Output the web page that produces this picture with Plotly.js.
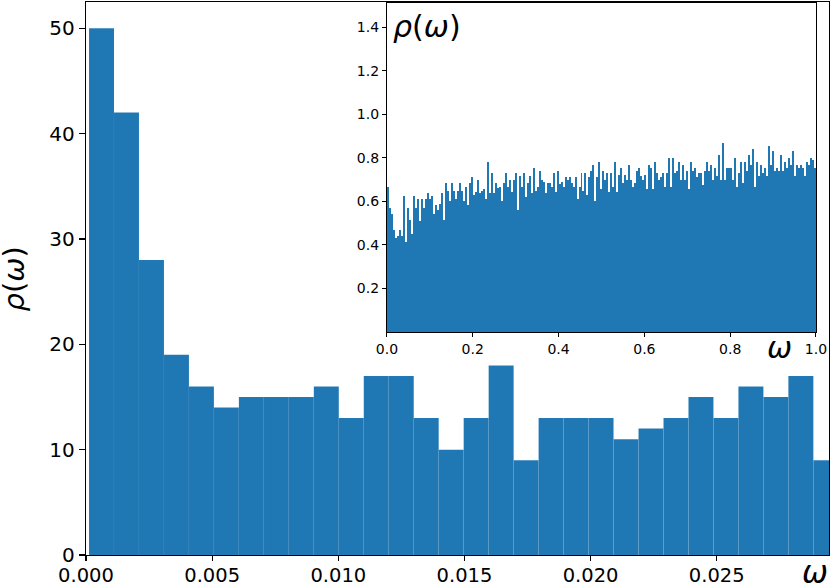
<!DOCTYPE html>
<html>
<head>
<meta charset="utf-8">
<script src="https://cdn.plot.ly/plotly-3.0.1.min.js"></script>
<style>
  html, body { margin: 0; padding: 0; background: #fff; }
  #chart { width: 830px; height: 585px; }
</style>
</head>
<body>
<div id="chart"></div>
<script>
// ---- Main histogram (low-frequency part) ----
const mainBinStart = 0.00012;
const mainBinWidth = 0.00099;
const mainCounts = [50, 42, 28, 19, 16, 14, 15, 15, 15, 16,
                    13, 17, 17, 13, 10, 13, 18, 9, 13, 13,
                    13, 11, 12, 13, 15, 13, 16, 15, 17, 9];
const mainXTicks = [0, 0.005, 0.010, 0.015, 0.020, 0.025];
const mainYTicks = [0, 10, 20, 30, 40, 50];

// ---- Inset histogram (full range 0..1) ----
const insetDensity = [
  // 0.00 - 0.20
  0.668, 0.569, 0.54, 0.47, 0.43, 0.44, 0.47, 0.44, 0.625, 0.415,
  0.57, 0.515, 0.45, 0.625, 0.57, 0.61, 0.51, 0.61, 0.57, 0.61,
  0.64, 0.61, 0.625, 0.54, 0.584, 0.56, 0.59, 0.64, 0.515, 0.683,
  0.65, 0.60, 0.683, 0.65, 0.61, 0.65, 0.683, 0.65, 0.60, 0.668,
  0.584, 0.686, 0.711,
  // 0.20 - 0.40
  0.63, 0.645, 0.70, 0.64, 0.65, 0.655, 0.61, 0.783, 0.64, 0.73,
  0.64, 0.683, 0.66, 0.668, 0.60, 0.683, 0.73, 0.668, 0.70, 0.645,
  0.70, 0.73, 0.56, 0.715, 0.668, 0.73, 0.62, 0.683, 0.715, 0.64,
  0.752, 0.65, 0.668, 0.738, 0.70, 0.69, 0.64, 0.683, 0.683, 0.668,
  0.73, 0.645, 0.738,
  // 0.40 - 0.60
  0.68, 0.69, 0.668, 0.711, 0.70, 0.711, 0.683, 0.668, 0.711, 0.61,
  0.668, 0.73, 0.65, 0.73, 0.63, 0.711, 0.738, 0.768, 0.60, 0.711,
  0.783, 0.655, 0.738, 0.70, 0.73, 0.645, 0.73, 0.668, 0.783, 0.645,
  0.72, 0.752, 0.683, 0.72, 0.70, 0.768, 0.70, 0.668, 0.683, 0.74,
  0.752, 0.715, 0.70,
  // 0.60 - 0.80
  0.72, 0.655, 0.768, 0.752, 0.655, 0.783, 0.73, 0.70, 0.711, 0.73,
  0.668, 0.73, 0.798, 0.668, 0.798, 0.73, 0.738, 0.783, 0.70, 0.768,
  0.70, 0.738, 0.655, 0.783, 0.738, 0.752, 0.711, 0.73, 0.73, 0.675,
  0.738, 0.783, 0.738, 0.768, 0.70, 0.752, 0.715, 0.814, 0.70, 0.867,
  0.70, 0.752, 0.752,
  // 0.80 - 1.00
  0.752, 0.70, 0.798, 0.668, 0.73, 0.783, 0.683, 0.783, 0.74, 0.814,
  0.768, 0.84, 0.668, 0.783, 0.715, 0.768, 0.73, 0.752, 0.715, 0.855,
  0.768, 0.83, 0.738, 0.752, 0.74, 0.814, 0.738, 0.783, 0.752, 0.798,
  0.768, 0.83, 0.715, 0.768, 0.752, 0.768, 0.752, 0.715, 0.783, 0.768,
  0.798, 0.79, 0.752
];
const insetXTicks = [0.0, 0.2, 0.4, 0.6, 0.8, 1.0];
const insetYTicks = [0.2, 0.4, 0.6, 0.8, 1.0, 1.2, 1.4];

const barColor = '#1f77b4';

const mainX = mainCounts.map((_, i) => mainBinStart + (i + 0.5) * mainBinWidth);
const insetWidth = 1 / insetDensity.length;
const insetX = insetDensity.map((_, i) => (i + 0.5) * insetWidth);

const traces = [
  {
    type: 'bar', x: mainX, y: mainCounts, width: mainBinWidth,
    marker: { color: barColor, line: { width: 0.4, color: 'rgba(255,255,255,0.10)' } },
    xaxis: 'x', yaxis: 'y', hoverinfo: 'x+y'
  },
  {
    type: 'bar', x: insetX, y: insetDensity, width: insetWidth,
    marker: { color: barColor, line: { width: 0 } },
    xaxis: 'x2', yaxis: 'y2', hoverinfo: 'x+y'
  }
];

const font = 'DejaVu Sans, Arial, sans-serif';

const layout = {
  width: 830, height: 585,
  margin: { l: 86, r: 1, t: 2, b: 30 },
  paper_bgcolor: '#fff', plot_bgcolor: '#fff',
  showlegend: false, bargap: 0,
  font: { family: font, color: '#000' },
  xaxis: {
    domain: [0, 1], range: [0, 0.02945],
    tickvals: mainXTicks, tickformat: '.3f',
    ticks: 'outside', ticklen: 5, tickwidth: 1.2, tickcolor: '#000',
    ticklabelstandoff: -3,
    tickfont: { size: 19.5, family: font, color: '#000' },
    showline: true, linecolor: '#000', linewidth: 1.2, mirror: true,
    showgrid: false, zeroline: false
  },
  yaxis: {
    domain: [0, 1], range: [0, 52.5],
    tickvals: mainYTicks,
    ticks: 'outside', ticklen: 6, tickwidth: 1.2, tickcolor: '#000',
    tickfont: { size: 20, family: font, color: '#000' },
    showline: true, linecolor: '#000', linewidth: 1.2, mirror: true,
    showgrid: false, zeroline: false
  },
  xaxis2: {
    domain: [0.405, 0.9825], range: [0, 1], anchor: 'y2',
    tickvals: insetXTicks, tickformat: '.1f',
    ticks: 'outside', ticklen: 4, tickwidth: 1, tickcolor: '#000',
    tickfont: { size: 14, family: font, color: '#000' },
    showline: true, linecolor: '#000', linewidth: 1, mirror: true,
    showgrid: false, zeroline: false
  },
  yaxis2: {
    domain: [0.4033, 0.999], range: [0, 1.514], anchor: 'x2',
    tickvals: insetYTicks, tickformat: '.1f',
    ticks: 'outside', ticklen: 4, tickwidth: 1, tickcolor: '#000',
    tickfont: { size: 14, family: font, color: '#000' },
    showline: true, linecolor: '#000', linewidth: 1, mirror: true,
    showgrid: false, zeroline: false
  },
  annotations: [
    { // main y label
      text: '<i>ρ</i>(<i>ω</i>)', xref: 'paper', yref: 'paper',
      x: -0.097, y: 0.5, xanchor: 'center', yanchor: 'middle',
      textangle: -90, showarrow: false,
      font: { size: 29, family: font, color: '#000' }
    },
    { // main x label
      text: '<i>ω</i>', xref: 'paper', yref: 'paper',
      x: 0.981, y: -0.03, xanchor: 'center', yanchor: 'middle',
      showarrow: false, font: { size: 31, family: font, color: '#000' }
    },
    { // inset title
      text: '<i>ρ</i>(<i>ω</i>)', xref: 'paper', yref: 'paper',
      x: 0.411, y: 0.955, xanchor: 'left', yanchor: 'middle',
      showarrow: false, font: { size: 30, family: font, color: '#000' }
    },
    { // inset x label
      text: '<i>ω</i>', xref: 'paper', yref: 'paper',
      x: 0.934, y: 0.376, xanchor: 'center', yanchor: 'middle',
      showarrow: false, font: { size: 30, family: font, color: '#000' }
    }
  ]
};

Plotly.newPlot('chart', traces, layout, { displayModeBar: false, staticPlot: true });
</script>
</body>
</html>
